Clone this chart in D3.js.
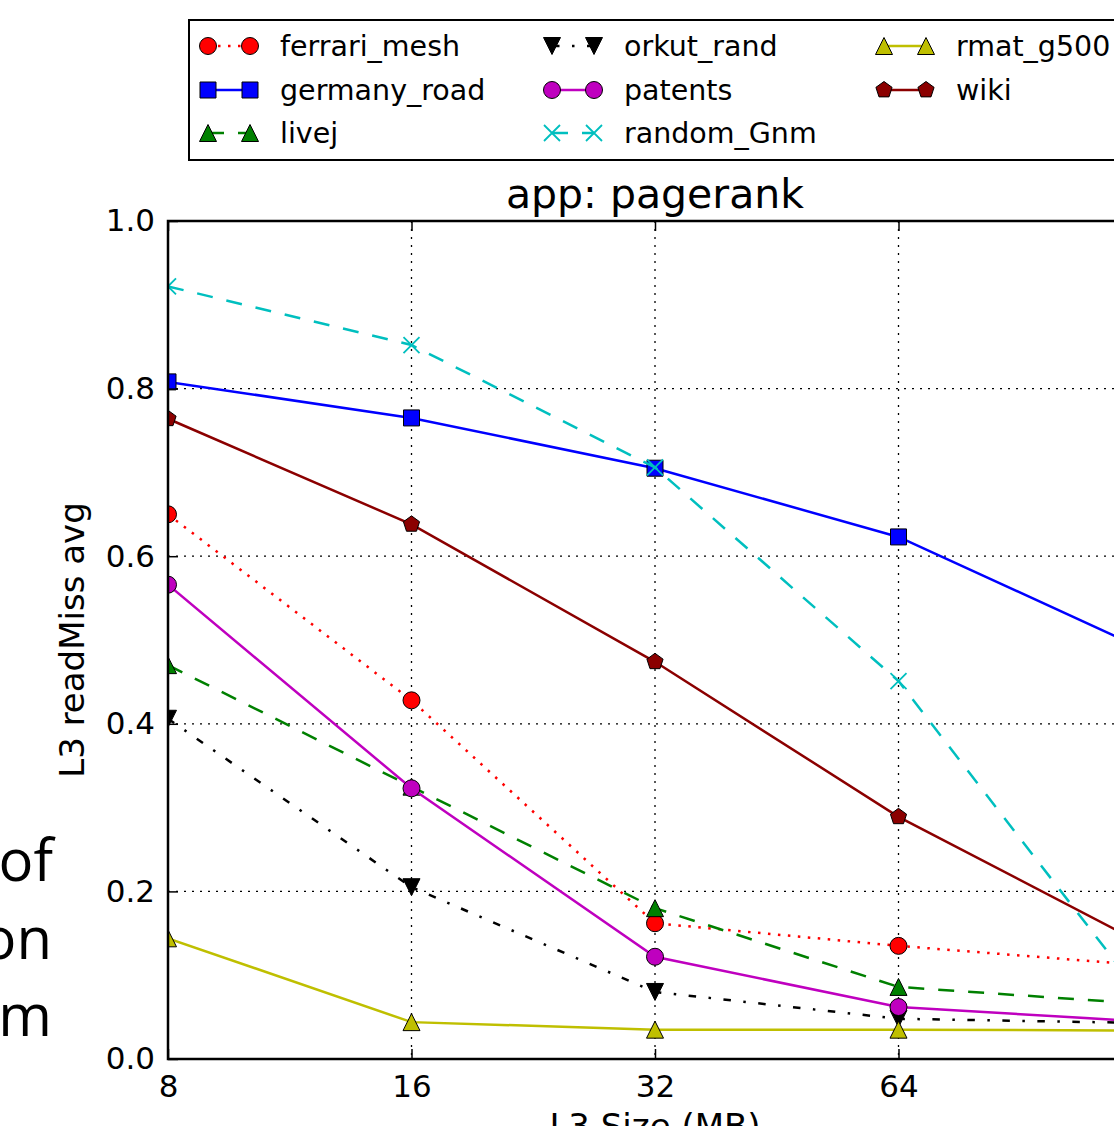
<!DOCTYPE html>
<html>
<head>
<meta charset="utf-8">
<script src="https://cdn.jsdelivr.net/npm/d3@7"></script>
<style>
body{margin:0;background:#fff}
svg{display:block}
text{font-family:"DejaVu Sans",sans-serif;fill:#000}
</style>
</head>
<body>
<svg id="chart" width="1114" height="1126"></svg>
<script>
// L3 size in MB (log2 x axis)
const sizes = [8, 16, 32, 64, 128]
const sizeTicks = [8, 16, 32, 64, 128]
const missTicks = [0.0, 0.2, 0.4, 0.6, 0.8, 1.0]

const seriesNames = ['ferrari_mesh', 'germany_road', 'livej', 'orkut_rand', 'patents', 'random_Gnm', 'rmat_g500', 'wiki']
const ferrariMesh = [0.650, 0.428, 0.162, 0.135, 0.112]
const germanyRoad = [0.808, 0.765, 0.705, 0.623, 0.490]
const livej = [0.470, 0.325, 0.180, 0.086, 0.066]
const orkutRand = [0.406, 0.205, 0.080, 0.048, 0.043]
const patents = [0.566, 0.323, 0.122, 0.062, 0.045]
const randomGnm = [0.922, 0.852, 0.706, 0.451, 0.075]
const rmatG500 = [0.144, 0.044, 0.035, 0.035, 0.034]
const wiki = [0.764, 0.638, 0.474, 0.289, 0.138]
const seriesValues = [ferrariMesh, germanyRoad, livej, orkutRand, patents, randomGnm, rmatG500, wiki]

const styles = [
  {color: '#ff0000', dash: '2.5,7.5', marker: 'o'},
  {color: '#0000ff', dash: null, marker: 's'},
  {color: '#008000', dash: '16,14', marker: '^'},
  {color: '#000000', dash: '7.5,12.5,2.5,12.5', marker: 'v'},
  {color: '#bf00bf', dash: null, marker: 'o'},
  {color: '#00bfbf', dash: '16,14', marker: 'x'},
  {color: '#bfbf00', dash: null, marker: '^'},
  {color: '#8b0000', dash: null, marker: 'p'}
]

const svg = d3.select('#chart')
const plotL = 168, plotR = 1142, plotT = 221, plotB = 1059

const x = d3.scaleLog().base(2).domain([8, 128]).range([plotL, plotR])
const y = d3.scaleLinear().domain([0, 1]).range([plotB, plotT])

svg.append('rect').attr('width', 1114).attr('height', 1126).attr('fill', '#fff')

// leftover slide text at the left edge
const slide = svg.append('g')
  .style('font-size', '58px')
  .attr('text-anchor', 'end')
slide.append('text').attr('x', 53).attr('y', 881).style('font-family', '"Open Sans",sans-serif').text('of')
slide.append('text').attr('x', 52).attr('y', 959).style('font-family', '"Open Sans",sans-serif').text('on')
slide.append('text').attr('x', 52).attr('y', 1036).style('font-family', '"Open Sans",sans-serif').text('m')

svg.append('defs').append('clipPath').attr('id', 'plot-clip')
  .append('rect')
  .attr('x', plotL).attr('y', plotT)
  .attr('width', plotR - plotL).attr('height', plotB - plotT)

function markerPath(kind) {
  const p = d3.path()
  if (kind === 'o') {
    p.arc(0, 0, 8.5, 0, 2 * Math.PI)
  } else if (kind === 's') {
    p.rect(-8, -8, 16, 16)
  } else if (kind === '^') {
    p.moveTo(0, -8.5); p.lineTo(8.5, 8.5); p.lineTo(-8.5, 8.5); p.closePath()
  } else if (kind === 'v') {
    p.moveTo(0, 8.5); p.lineTo(8.5, -8.5); p.lineTo(-8.5, -8.5); p.closePath()
  } else if (kind === 'p') {
    for (let i = 0; i < 5; i++) {
      const a = -Math.PI / 2 + i * 2 * Math.PI / 5
      const px = 8.5 * Math.cos(a), py = 8.5 * Math.sin(a)
      if (i === 0) p.moveTo(px, py); else p.lineTo(px, py)
    }
    p.closePath()
  } else if (kind === 'x') {
    p.moveTo(-8, -8); p.lineTo(8, 8)
    p.moveTo(-8, 8); p.lineTo(8, -8)
  }
  return p.toString()
}

function drawMarker(g, st, cx, cy) {
  const m = g.append('path')
    .attr('d', markerPath(st.marker))
    .attr('transform', `translate(${cx},${cy})`)
  if (st.marker === 'x') {
    m.attr('fill', 'none').attr('stroke', st.color).attr('stroke-width', 1.8)
  } else {
    m.attr('fill', st.color).attr('stroke', '#000').attr('stroke-width', 1)
  }
}

// grid
const grid = svg.append('g')
  .attr('stroke', '#000')
  .attr('stroke-width', 1.3)
  .attr('stroke-dasharray', '2,6')
grid.selectAll('.gx').data(sizeTicks.slice(1, -1)).join('line')
  .attr('class', 'gx')
  .attr('x1', d => x(d)).attr('x2', d => x(d))
  .attr('y1', plotT).attr('y2', plotB)
grid.selectAll('.gy').data(missTicks.slice(1, -1)).join('line')
  .attr('class', 'gy')
  .attr('y1', d => y(d)).attr('y2', d => y(d))
  .attr('x1', plotL).attr('x2', plotR)

// series
const plot = svg.append('g').attr('clip-path', 'url(#plot-clip)')
const line = d3.line().x(d => x(d[0])).y(d => y(d[1]))
seriesValues.forEach((vals, i) => {
  const st = styles[i]
  const pts = sizes.map((s, j) => [s, vals[j]])
  plot.append('path')
    .attr('d', line(pts))
    .attr('fill', 'none')
    .attr('stroke', st.color)
    .attr('stroke-width', 2.5)
    .attr('stroke-dasharray', st.dash)
  pts.forEach(p => drawMarker(plot, st, x(p[0]), y(p[1])))
})

// axes (matplotlib style: ticks inside, on all sides)
const xAxis = svg.append('g').attr('transform', `translate(0,${plotB})`)
  .call(d3.axisBottom(x).tickValues(sizeTicks).tickFormat(d3.format('d')).tickSizeInner(-10).tickSizeOuter(0).tickPadding(16))
const xAxisTop = svg.append('g').attr('transform', `translate(0,${plotT})`)
  .call(d3.axisTop(x).tickValues(sizeTicks).tickFormat('').tickSizeInner(-10).tickSizeOuter(0))
const yAxis = svg.append('g').attr('transform', `translate(${plotL},0)`)
  .call(d3.axisLeft(y).tickValues(missTicks).tickFormat(d3.format('.1f')).tickSizeInner(-10).tickSizeOuter(0).tickPadding(13))
;[xAxis, xAxisTop, yAxis].forEach(a => {
  a.select('.domain').remove()
  a.selectAll('.tick line').attr('stroke', '#000').attr('stroke-width', 1.5)
  a.selectAll('.tick text').style('font-family', '"DejaVu Sans",sans-serif').style('font-size', '31px').attr('fill', '#000')
})

svg.append('rect')
  .attr('x', plotL).attr('y', plotT)
  .attr('width', plotR - plotL).attr('height', plotB - plotT)
  .attr('fill', 'none').attr('stroke', '#000').attr('stroke-width', 2.5)

// labels
svg.append('text')
  .attr('x', (plotL + plotR) / 2).attr('y', 208)
  .attr('text-anchor', 'middle')
  .style('font-size', '41px')
  .text('app: pagerank')
svg.append('text')
  .attr('transform', `translate(84,${(plotT + plotB) / 2}) rotate(-90)`)
  .attr('text-anchor', 'middle')
  .style('font-size', '34px')
  .text('L3 readMiss avg')
svg.append('text')
  .attr('x', (plotL + plotR) / 2).attr('y', 1138)
  .attr('text-anchor', 'middle')
  .style('font-size', '34px')
  .text('L3 Size (MB)')

// legend
const legend = svg.append('g')
legend.append('rect')
  .attr('x', 189).attr('y', 20).attr('width', 1000).attr('height', 140)
  .attr('fill', '#fff').attr('stroke', '#000').attr('stroke-width', 2)
const colX = [208, 552, 884]
const rowY = [46, 90, 133]
seriesNames.forEach((name, i) => {
  const st = styles[i]
  const cx = colX[Math.floor(i / 3)], cy = rowY[i % 3]
  legend.append('line')
    .attr('x1', cx).attr('x2', cx + 42).attr('y1', cy).attr('y2', cy)
    .attr('stroke', st.color).attr('stroke-width', 2.5)
    .attr('stroke-dasharray', st.dash)
  drawMarker(legend, st, cx, cy)
  drawMarker(legend, st, cx + 42, cy)
  legend.append('text')
    .attr('x', cx + 72).attr('y', cy + 10)
    .style('font-size', '28.5px')
    .text(name)
})
</script>
</body>
</html>
